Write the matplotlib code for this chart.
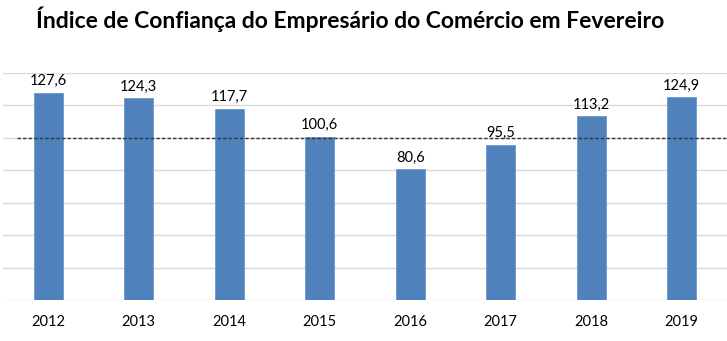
import matplotlib.pyplot as plt
import numpy as np

plt.rcParams['font.family'] = ['Lato', 'DejaVu Sans']

anos = ['2012', '2013', '2014', '2015', '2016', '2017', '2018', '2019']
icec = [127.6, 124.3, 117.7, 100.6, 80.6, 95.5, 113.2, 124.9]
rotulos = ['127,6', '124,3', '117,7', '100,6', '80,6', '95,5', '113,2', '124,9']
referencia = 100

fig = plt.figure(figsize=(7.27, 3.41), dpi=100)
ax = fig.add_axes([3/727, 1 - 300/341, 724/727, (300 - 73)/341])

x = np.arange(len(anos))
ax.set_axisbelow(True)
ax.yaxis.grid(True, color='#d9d9d9', linewidth=1)
ax.bar(x, icec, width=0.32, color='#4f81bd', edgecolor='#6f97cc', linewidth=0.6, zorder=2)
ax.hlines(referencia, -0.34, 7.5, colors='#333333', linestyles=(0, (2.5, 1.5)), linewidth=1, zorder=3)

for xi, v, r in zip(x, icec, rotulos):
    ax.text(xi, v + 3, r, ha='center', va='bottom', fontsize=10.5, color='black')

ax.set_xlim(-0.5, 7.5)
ax.set_ylim(0, 140)
ax.set_yticks(np.arange(0, 141, 20))
ax.set_yticklabels([])
ax.set_xticks(x)
ax.set_xticklabels(anos, fontsize=10.5)
ax.tick_params(axis='both', length=0, pad=11)
for s in ax.spines.values():
    s.set_visible(False)

fig.text(0.4815, 0.945, 'Índice de Confiança do Empresário do Comércio em Fevereiro',
         ha='center', va='center', fontsize=16.5, fontweight='bold', color='black')

fig.savefig('out.png', dpi=100)
